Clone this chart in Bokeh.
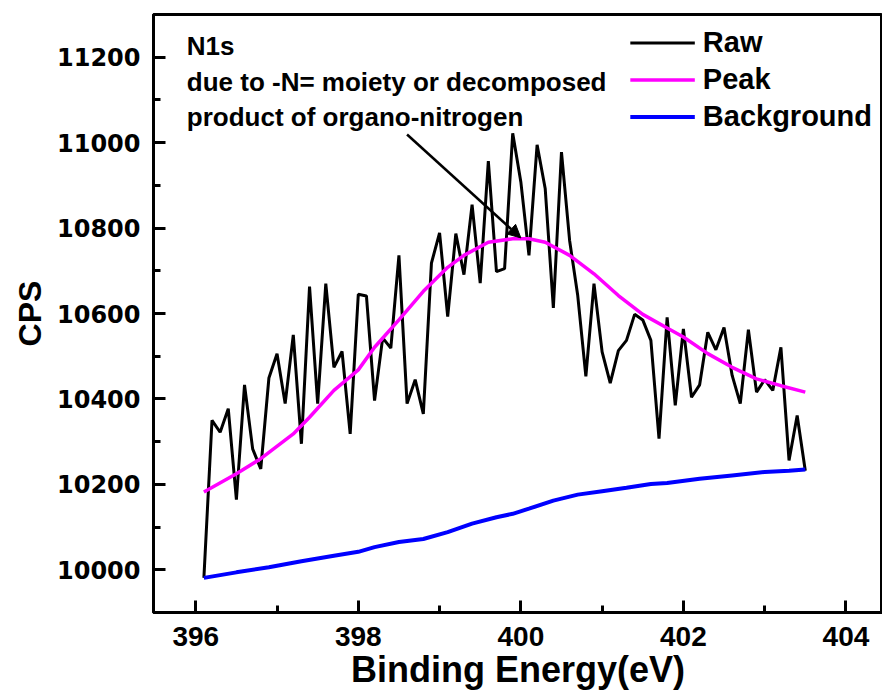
from bokeh.plotting import figure
from bokeh.models import (FixedTicker, Label, Arrow, NormalHead, Legend, LegendItem)
from bokeh.embed import file_html
from bokeh.resources import INLINE

# ---- data ----
raw_x = [396.1, 396.2, 396.3, 396.4, 396.5, 396.6, 396.7, 396.8, 396.9, 397.0,
         397.1, 397.2, 397.3, 397.4, 397.5, 397.6, 397.7, 397.8, 397.9, 398.0,
         398.1, 398.2, 398.3, 398.4, 398.5, 398.6, 398.7, 398.8, 398.9, 399.0,
         399.1, 399.2, 399.3, 399.4, 399.5, 399.6, 399.7, 399.8, 399.9, 400.0,
         400.1, 400.2, 400.3, 400.4, 400.5, 400.6, 400.7, 400.8, 400.9, 401.0,
         401.1, 401.2, 401.3, 401.4, 401.5, 401.6, 401.7, 401.8, 401.9, 402.0,
         402.1, 402.2, 402.3, 402.4, 402.5, 402.6, 402.7, 402.8, 402.9, 403.0,
         403.1, 403.2, 403.3, 403.4, 403.5]
raw_y = [9981, 10350, 10322, 10377, 10164, 10433, 10283, 10236, 10449, 10506,
         10389, 10550, 10295, 10663, 10389, 10670, 10474, 10511, 10318, 10645,
         10641, 10396, 10543, 10519, 10736, 10389, 10445, 10365, 10718, 10789,
         10593, 10787, 10691, 10855, 10671, 10957, 10698, 10705, 11022, 10908,
         10736, 10995, 10892, 10613, 10978, 10771, 10642, 10453, 10670, 10510,
         10437, 10513, 10537, 10598, 10585, 10537, 10307, 10591, 10385, 10564,
         10404, 10433, 10556, 10515, 10567, 10455, 10389, 10562, 10416, 10445,
         10420, 10521, 10256, 10361, 10232]

peak_x = [396.1, 396.5, 396.8, 397.2, 397.4, 397.7, 398.0, 398.2, 398.5, 398.8,
          399.1, 399.3, 399.6, 399.9, 400.1, 400.3, 400.6, 400.9, 401.2, 401.5,
          401.8, 402.0, 402.3, 402.6, 402.9, 403.2, 403.5]
peak_y = [10182, 10225, 10260, 10318, 10357, 10420, 10468, 10521, 10585, 10652,
          10708, 10736, 10767, 10775, 10775, 10767, 10736, 10693, 10642, 10598,
          10566, 10545, 10506, 10474, 10447, 10431, 10416]

bg_x = [396.1, 396.5, 396.9, 397.3, 397.7, 398.0, 398.2, 398.5, 398.8, 399.1,
        399.4, 399.7, 399.9, 400.1, 400.4, 400.7, 401.0, 401.3, 401.6, 401.8,
        402.2, 402.6, 403.0, 403.3, 403.5]
bg_y = [9981, 9994, 10006, 10020, 10033, 10042, 10053, 10065, 10072, 10088,
        10108, 10123, 10131, 10143, 10162, 10176, 10184, 10192, 10201, 10203,
        10213, 10221, 10229, 10232, 10235]

x_ticks = [396, 398, 400, 402, 404]
x_minor = [395, 397, 399, 401, 403]
y_ticks = [10000, 10200, 10400, 10600, 10800, 11000, 11200]
y_minor = [9900, 10100, 10300, 10500, 10700, 10900, 11100, 11300]

note_title = "N1s"
note_lines = ["due to -N= moiety or decomposed", "product of organo-nitrogen"]
arrow_tail = (398.6, 11019)
arrow_head = (400.0, 10777)

FONT = "Liberation Sans"

p = figure(width=882, height=697, output_backend="svg", toolbar_location=None,
           x_range=(395.48, 404.45), y_range=(9900, 11300),
           min_border_left=153, min_border_right=0, min_border_top=14,
           min_border_bottom=85)
p.grid.visible = False
p.background_fill_color = "white"
p.border_fill_color = "white"
p.outline_line_color = "black"
p.outline_line_width = 3

r_raw = p.line(raw_x, raw_y, line_color="black", line_width=3)
r_peak = p.line(peak_x, peak_y, line_color="#FF00FF", line_width=3.5)
r_bg = p.line(bg_x, bg_y, line_color="#0000FF", line_width=4)

for ax in (p.xaxis[0], p.yaxis[0]):
    ax.axis_line_width = 3
    ax.major_tick_line_width = 3
    ax.minor_tick_line_width = 3
    ax.major_tick_in = 12
    ax.major_tick_out = 0
    ax.minor_tick_in = 7
    ax.minor_tick_out = 0
    ax.major_label_text_font_style = "bold"
    ax.axis_label_text_font_style = "bold"
    ax.major_label_text_color = "black"
    ax.axis_label_text_color = "black"

p.xaxis.ticker = FixedTicker(ticks=x_ticks, minor_ticks=x_minor)
p.yaxis.ticker = FixedTicker(ticks=y_ticks, minor_ticks=y_minor)

p.xaxis.axis_label = "Binding Energy(eV)"
p.xaxis.major_label_text_font = FONT
p.xaxis.major_label_text_font_size = "28px"
p.xaxis.axis_label_text_font = FONT
p.xaxis.axis_label_text_font_size = "36px"
p.xaxis.major_label_standoff = 14
p.xaxis.axis_label_standoff = 0

p.yaxis.axis_label = "CPS"
p.yaxis.major_label_text_font = "DejaVu Sans"
p.yaxis.major_label_text_font_size = "24px"
p.yaxis.axis_label_text_font = FONT
p.yaxis.axis_label_text_font_size = "32px"
p.yaxis.major_label_standoff = 13
p.yaxis.axis_label_standoff = 6

# annotation text
for txt, yy in [(note_title, 11227), (note_lines[0], 11141), (note_lines[1], 11059)]:
    p.add_layout(Label(x=395.89, y=yy, text=txt, text_font=FONT,
                       text_font_size="26px", text_font_style="bold",
                       text_color="black", text_baseline="middle"))
p.add_layout(Arrow(x_start=arrow_tail[0], y_start=arrow_tail[1],
                   x_end=arrow_head[0], y_end=arrow_head[1],
                   line_width=2.5, line_color="black",
                   end=NormalHead(size=13, fill_color="black", line_color="black")))

legend = Legend(items=[LegendItem(label="Raw", renderers=[r_raw]),
                       LegendItem(label="Peak", renderers=[r_peak]),
                       LegendItem(label="Background", renderers=[r_bg])],
                location="top_right")
legend.label_text_font = FONT
legend.label_text_font_size = "29px"
legend.label_text_font_style = "bold"
legend.label_text_color = "black"
legend.glyph_width = 65
legend.glyph_height = 37
legend.label_height = 37
legend.label_standoff = 8
legend.spacing = 0
legend.padding = 6
legend.margin = 10
legend.border_line_color = None
legend.background_fill_alpha = 0
p.add_layout(legend)

open("out.html", "w").write(file_html(p, INLINE))
